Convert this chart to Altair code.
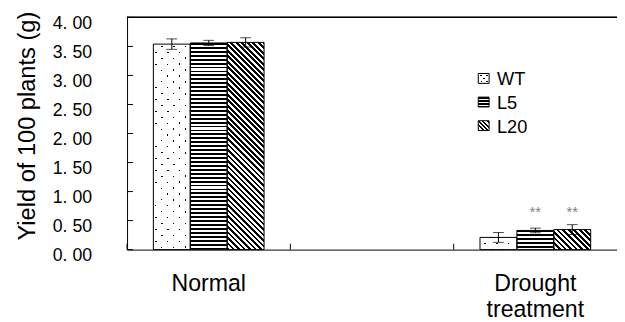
import altair as alt
import pandas as pd

# ---------------- data ----------------
categories = ["Normal", "", "Drought treatment"]
series_order = ["WT", "L5", "L20"]
groups = ["Normal", "Normal", "Normal", "Drought treatment", "Drought treatment", "Drought treatment"]
series = ["WT", "L5", "L20", "WT", "L5", "L20"]
means = [3.54, 3.56, 3.57, 0.21, 0.33, 0.345]
errors = [0.09, 0.045, 0.08, 0.085, 0.04, 0.085]
signif = ["", "", "", "", "**", "**"]
y_ticks = [0, 0.5, 1.0, 1.5, 2.0, 2.5, 3.0, 3.5, 4.0]

df = pd.DataFrame({"group": groups, "series": series, "mean": means, "err": errors, "sig": signif})
df["lo"] = df["mean"] - df["err"]
df["hi"] = df["mean"] + df["err"]

# ---------------- layout ----------------
W, H, YMAX = 498, 236, 4.0
OUTER = 0.713
BAR_W = (W / 3) / (3 + 2 * OUTER)
PX = H / YMAX
FONT = "Liberation Sans"
LEG_X, LEG_Y0, LEG_DY, SW, SH = 357, 62, 24, 11, 10

xscale = alt.Scale(domain=categories, paddingInner=0, paddingOuter=0)
xoff = alt.Scale(domain=series_order, paddingInner=0, paddingOuter=OUTER)
yscale = alt.Scale(domain=[0, YMAX], nice=False, zero=True)

x_axis = alt.Axis(title=None, ticks=False, labelAngle=0, labelFontSize=23.5, labelFont=FONT,
                  labelColor="black", labelPadding=23, labelLineHeight=26,
                  labelExpr="split(datum.label, ' ')", domainColor="black", domainWidth=1)
y_axis = alt.Axis(title="Yield of 100 plants (g)", values=y_ticks, ticks=False, grid=False,
                  labelFontSize=18, labelFont=FONT, labelColor="black", labelPadding=36,
                  labelOffset=6, labelExpr="replace(format(datum.value, '.2f'), '.', '. ')",
                  titleFontSize=24, titleFont=FONT, titleFontWeight="normal", titleColor="black",
                  titlePadding=13, titleY=110, domainColor="black", domainWidth=1)


def stripe_stops(total, period, on, c_on, c_off):
    stops = [{"offset": 0, "color": c_off}]
    s = 0.0
    while s < total:
        e = min(s + on, total)
        a, b = round(s / total, 5), round(e / total, 5)
        stops += [{"offset": a, "color": c_off}, {"offset": a, "color": c_on},
                  {"offset": b, "color": c_on}, {"offset": b, "color": c_off}]
        s += period
    stops.append({"offset": 1, "color": c_off})
    return stops


def horiz_grad(h, period=4.0, on=1.9):
    return {"gradient": "linear", "x1": 0, "y1": 0, "x2": 0, "y2": 1,
            "stops": stripe_stops(h, period, on, "black", "white")}


def diag_grad(w, h, back, q, on, c_on, c_off):
    k = (w + h) / (w * w + h * h)
    if back:   # "\" stripes
        g = {"x1": 0, "y1": 1, "x2": round(k * w, 5), "y2": round(1 - k * h, 5)}
    else:      # "/" stripes
        g = {"x1": 0, "y1": 0, "x2": round(k * w, 5), "y2": round(k * h, 5)}
    g.update({"gradient": "linear", "stops": stripe_stops(w + h, q, on, c_on, c_off)})
    return g


CLEAR = "rgba(255,255,255,0)"


def pattern_fills(s, w, h, small=False):
    if s == "WT":
        q = 6 if small else 12
        return ["black",
                diag_grad(w, h, True, q, q - 1.8, "white", CLEAR),
                diag_grad(w, h, False, q, q - 1.8, "white", CLEAR)]
    if s == "L5":
        return [horiz_grad(h, 3.0 if small else 4.0, 1.6 if small else 1.9)]
    return [diag_grad(w, h, True, 4.4 if small else 5.6, 2.2 if small else 2.8, "black", "white")]


def pos(yfield="mean"):
    return dict(
        x=alt.X("group:N", scale=xscale, axis=x_axis),
        xOffset=alt.XOffset("series:N", scale=xoff),
        y=alt.Y(f"{yfield}:Q", scale=yscale, axis=y_axis),
    )


base = alt.Chart(df)
layers = []

# shadows
layers.append(base.mark_bar(color="black", xOffset=3, yOffset=3, y2Offset=0)
              .encode(**pos(), y2=alt.Y2Datum(0)))

# patterned bars
for g, s, m in zip(groups, series, means):
    sel = base.transform_filter((alt.datum.group == g) & (alt.datum.series == s))
    for f in pattern_fills(s, BAR_W, m * PX):
        layers.append(sel.mark_bar(fill=f).encode(**pos()))

# outlines
layers.append(base.mark_bar(fillOpacity=0, stroke="black", strokeWidth=1).encode(**pos()))

# error bars
layers.append(base.mark_rule(color="black", strokeWidth=1).encode(**pos("lo"), y2="hi:Q"))
for f in ["lo", "hi"]:
    layers.append(base.mark_tick(color="black", orient="horizontal", size=11, thickness=1).encode(**pos(f)))

# significance stars
layers.append(base.transform_filter(alt.datum.sig != "")
              .transform_joinaggregate(top="max(hi)", groupby=["group"])
              .mark_text(fontSize=15, color="#7f7f7f", font=FONT, dy=-13)
              .encode(**pos("top"), text="sig:N"))

# legend (patterned swatches + labels)
leg_df = pd.DataFrame({"label": series_order})
for i, s in enumerate(series_order):
    yc = LEG_Y0 + i * LEG_DY
    item = alt.Chart(leg_df).transform_filter(alt.datum.label == s)
    for f in pattern_fills(s, SW, SH, small=True):
        layers.append(item.mark_rect(fill=f).encode(
            x=alt.value(LEG_X), x2=alt.value(LEG_X + SW), y=alt.value(yc - SH / 2), y2=alt.value(yc + SH / 2)))
    layers.append(item.mark_rect(fillOpacity=0, stroke="black", strokeWidth=1).encode(
        x=alt.value(LEG_X), x2=alt.value(LEG_X + SW), y=alt.value(yc - SH / 2), y2=alt.value(yc + SH / 2)))
    layers.append(item.mark_text(align="left", baseline="middle", fontSize=18.5, font=FONT, color="black")
                  .encode(x=alt.value(LEG_X + SW + 8), y=alt.value(yc + 1), text="label:N"))

# inward tick marks and top frame line
tick_df = pd.DataFrame({"v": y_ticks})
layers.append(alt.Chart(tick_df).mark_rule(color="black").encode(
    y=alt.Y("v:Q", scale=yscale, axis=y_axis), x=alt.value(0), x2=alt.value(6)))
cat_df = pd.DataFrame({"group": categories})
layers.append(alt.Chart(cat_df).mark_rule(color="black").encode(
    x=alt.X("group:N", scale=xscale, axis=x_axis, bandPosition=0), y=alt.value(H - 6), y2=alt.value(H)))
layers.append(alt.Chart(tick_df).mark_rule(color="black").encode(y=alt.YDatum(YMAX, scale=yscale, axis=y_axis)))

chart = alt.layer(*layers).properties(
    width=W, height=H,
    autosize=alt.AutoSizeParams(type="none"),
    padding={"left": 121, "top": 7, "right": 0, "bottom": 70},
).configure_view(stroke=None)

chart.save("out.html", embed_options={"renderer": "svg", "actions": False})
